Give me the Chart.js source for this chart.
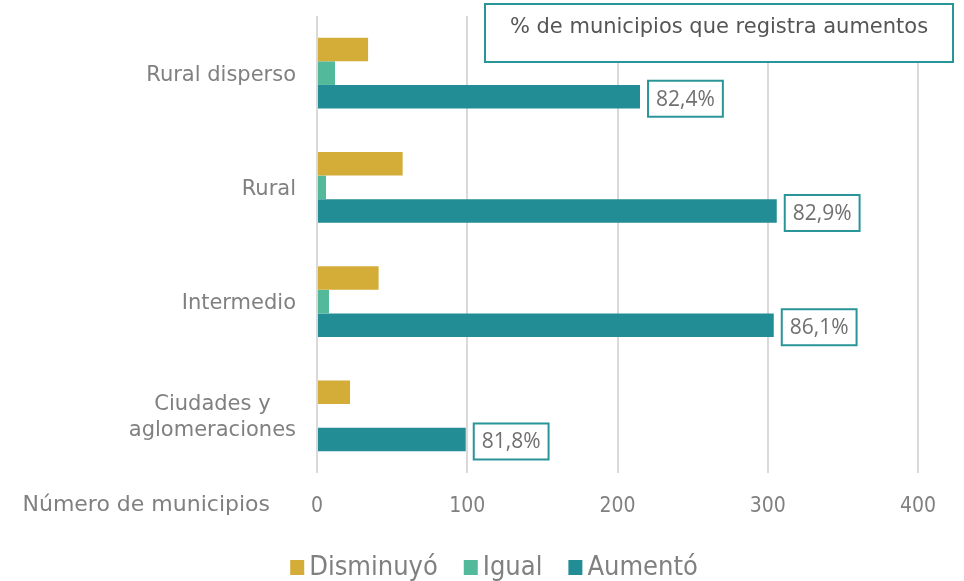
<!DOCTYPE html>
<html>
<head>
<meta charset="utf-8">
<script src="https://cdn.jsdelivr.net/npm/chart.js@4"></script>
<style>
    body { margin: 0; background: #ffffff; }
    #wrap { width: 964px; height: 581px; }
</style>
</head>
<body>
<div id="wrap"><canvas id="chart" width="964" height="581"></canvas></div>
<script>

const categories = ['Rural disperso', 'Rural', 'Intermedio', ['Ciudades y', 'aglomeraciones']];
const disminuyo = [34, 57, 41, 22];
const igual = [12, 6, 8, 0];
const aumento = [215, 306, 304, 99];
const aumentoLabels = ['82,4%', '82,9%', '86,1%', '81,8%'];
const seriesNames = ['Disminuyó', 'Igual', 'Aumentó'];
const axisTitle = 'Número de municipios';
const boxTitle = '% de municipios que registra aumentos';

const COLORS = ['#d4ac38', '#52b99a', '#238d96'];
const LINE_TEAL = '#2a9599';
const TEXT_GRAY = '#808080';
const NARROW = '"DejaVu Sans Condensed", "DejaVu Sans"';

/* =========================
   LABEL BOXES ON AUMENTÓ BARS
========================= */

const valueBoxes = {
    id: 'valueBoxes',
    afterDatasetsDraw(chart) {
        const ctx = chart.ctx;
        const meta = chart.getDatasetMeta(2);
        ctx.save();
        ctx.font = '21px "Open Sans"';
        ctx.textBaseline = 'middle';
        ctx.textAlign = 'left';
        meta.data.forEach((bar, i) => {
            const text = aumentoLabels[i];
            const w = ctx.measureText(text).width + 16;
            const h = 36;
            const x = bar.x + 8;
            const y = bar.y - h / 2 + 2;
            ctx.fillStyle = '#ffffff';
            ctx.fillRect(x, y, w, h);
            ctx.strokeStyle = LINE_TEAL;
            ctx.lineWidth = 2;
            ctx.strokeRect(x, y, w, h);
            ctx.fillStyle = '#707070';
            ctx.fillText(text, x + 8, y + h / 2 + 1);
        });
        ctx.restore();
    }
};

/* =========================
   CATEGORY LABELS (block right-aligned, lines centred)
========================= */

const categoryLabels = {
    id: 'categoryLabels',
    afterDraw(chart) {
        const ctx = chart.ctx;
        const yScale = chart.scales.y;
        const right = chart.chartArea.left - 21;
        const lineGap = 26;
        ctx.save();
        ctx.font = '21px "DejaVu Sans"';
        ctx.fillStyle = TEXT_GRAY;
        ctx.textAlign = 'center';
        ctx.textBaseline = 'middle';
        categories.forEach((label, i) => {
            const lines = Array.isArray(label) ? label : [label];
            const maxW = Math.max(...lines.map(l => ctx.measureText(l).width));
            const cx = right - maxW / 2;
            const cy = yScale.getPixelForValue(i) + 2;
            const top = cy - (lines.length - 1) * lineGap / 2;
            lines.forEach((line, j) => {
                ctx.fillText(line, cx, top + j * lineGap);
            });
        });
        ctx.restore();
    }
};

/* =========================
   TITLE BOX, AXIS TITLE, LEGEND
========================= */

const extras = {
    id: 'extras',
    afterDraw(chart) {
        const ctx = chart.ctx;
        const area = chart.chartArea;
        ctx.save();

        // title box
        const bx = area.right - 433;
        const by = 4;
        const bw = 468;
        const bh = 58;
        ctx.fillStyle = '#ffffff';
        ctx.fillRect(bx, by, bw, bh);
        ctx.strokeStyle = LINE_TEAL;
        ctx.lineWidth = 2;
        ctx.strokeRect(bx, by, bw, bh);
        ctx.fillStyle = '#555555';
        ctx.font = '21px "DejaVu Sans"';
        ctx.textAlign = 'center';
        ctx.textBaseline = 'middle';
        ctx.fillText(boxTitle, bx + bw / 2, by + 24);

        // axis title, left of the tick labels
        const xScale = chart.scales.x;
        ctx.fillStyle = TEXT_GRAY;
        ctx.font = '22px "DejaVu Sans"';
        ctx.textAlign = 'right';
        ctx.fillText(axisTitle, area.left - 47, xScale.top + 32);

        // legend
        ctx.font = '27px ' + NARROW;
        ctx.textAlign = 'left';
        const box = 14;
        const gapBox = 5;
        const gapItem = 26;
        const widths = seriesNames.map(n => ctx.measureText(n).width);
        const total = widths.reduce((a, w) => a + box + gapBox + w, 0) + gapItem * (seriesNames.length - 1);
        let x = chart.width / 2 + 12 - total / 2;
        const cy = 567;
        seriesNames.forEach((name, i) => {
            ctx.fillStyle = COLORS[i];
            ctx.fillRect(x, cy - 7, box, 15);
            x += box + gapBox;
            ctx.fillStyle = TEXT_GRAY;
            ctx.fillText(name, x, cy + 1);
            x += widths[i] + gapItem;
        });

        ctx.restore();
    }
};

new Chart(document.getElementById('chart').getContext('2d'), {

    type: 'bar',

    data: {
        labels: categories,
        datasets: [
            { label: seriesNames[0], data: disminuyo, backgroundColor: COLORS[0] },
            { label: seriesNames[1], data: igual, backgroundColor: COLORS[1] },
            { label: seriesNames[2], data: aumento, backgroundColor: COLORS[2] }
        ]
    },

    options: {
        indexAxis: 'y',
        responsive: false,
        animation: false,
        datasets: {
            bar: {
                categoryPercentage: 0.62,
                barPercentage: 1
            }
        },
        layout: {
            padding: { top: 16, right: 46, bottom: 64, left: 0 }
        },
        plugins: {
            tooltip: { enabled: false },
            legend: { display: false }
        },
        scales: {
            x: {
                min: 0,
                max: 400,
                grid: {
                    color: '#d9d9d9',
                    lineWidth: 2,
                    drawTicks: false
                },
                border: { display: false },
                ticks: {
                    stepSize: 100,
                    padding: 21,
                    color: TEXT_GRAY,
                    font: { size: 21, family: NARROW }
                },
                afterFit(scale) {
                    scale.height = 44;
                    scale.paddingLeft = 0;
                    scale.paddingRight = 0;
                }
            },
            y: {
                grid: { display: false },
                border: { display: false },
                ticks: { display: false },
                afterFit(scale) {
                    scale.width = 317;
                    scale.paddingTop = 0;
                    scale.paddingBottom = 0;
                }
            }
        }
    },

    plugins: [valueBoxes, categoryLabels, extras]
});
</script>
</body>
</html>
